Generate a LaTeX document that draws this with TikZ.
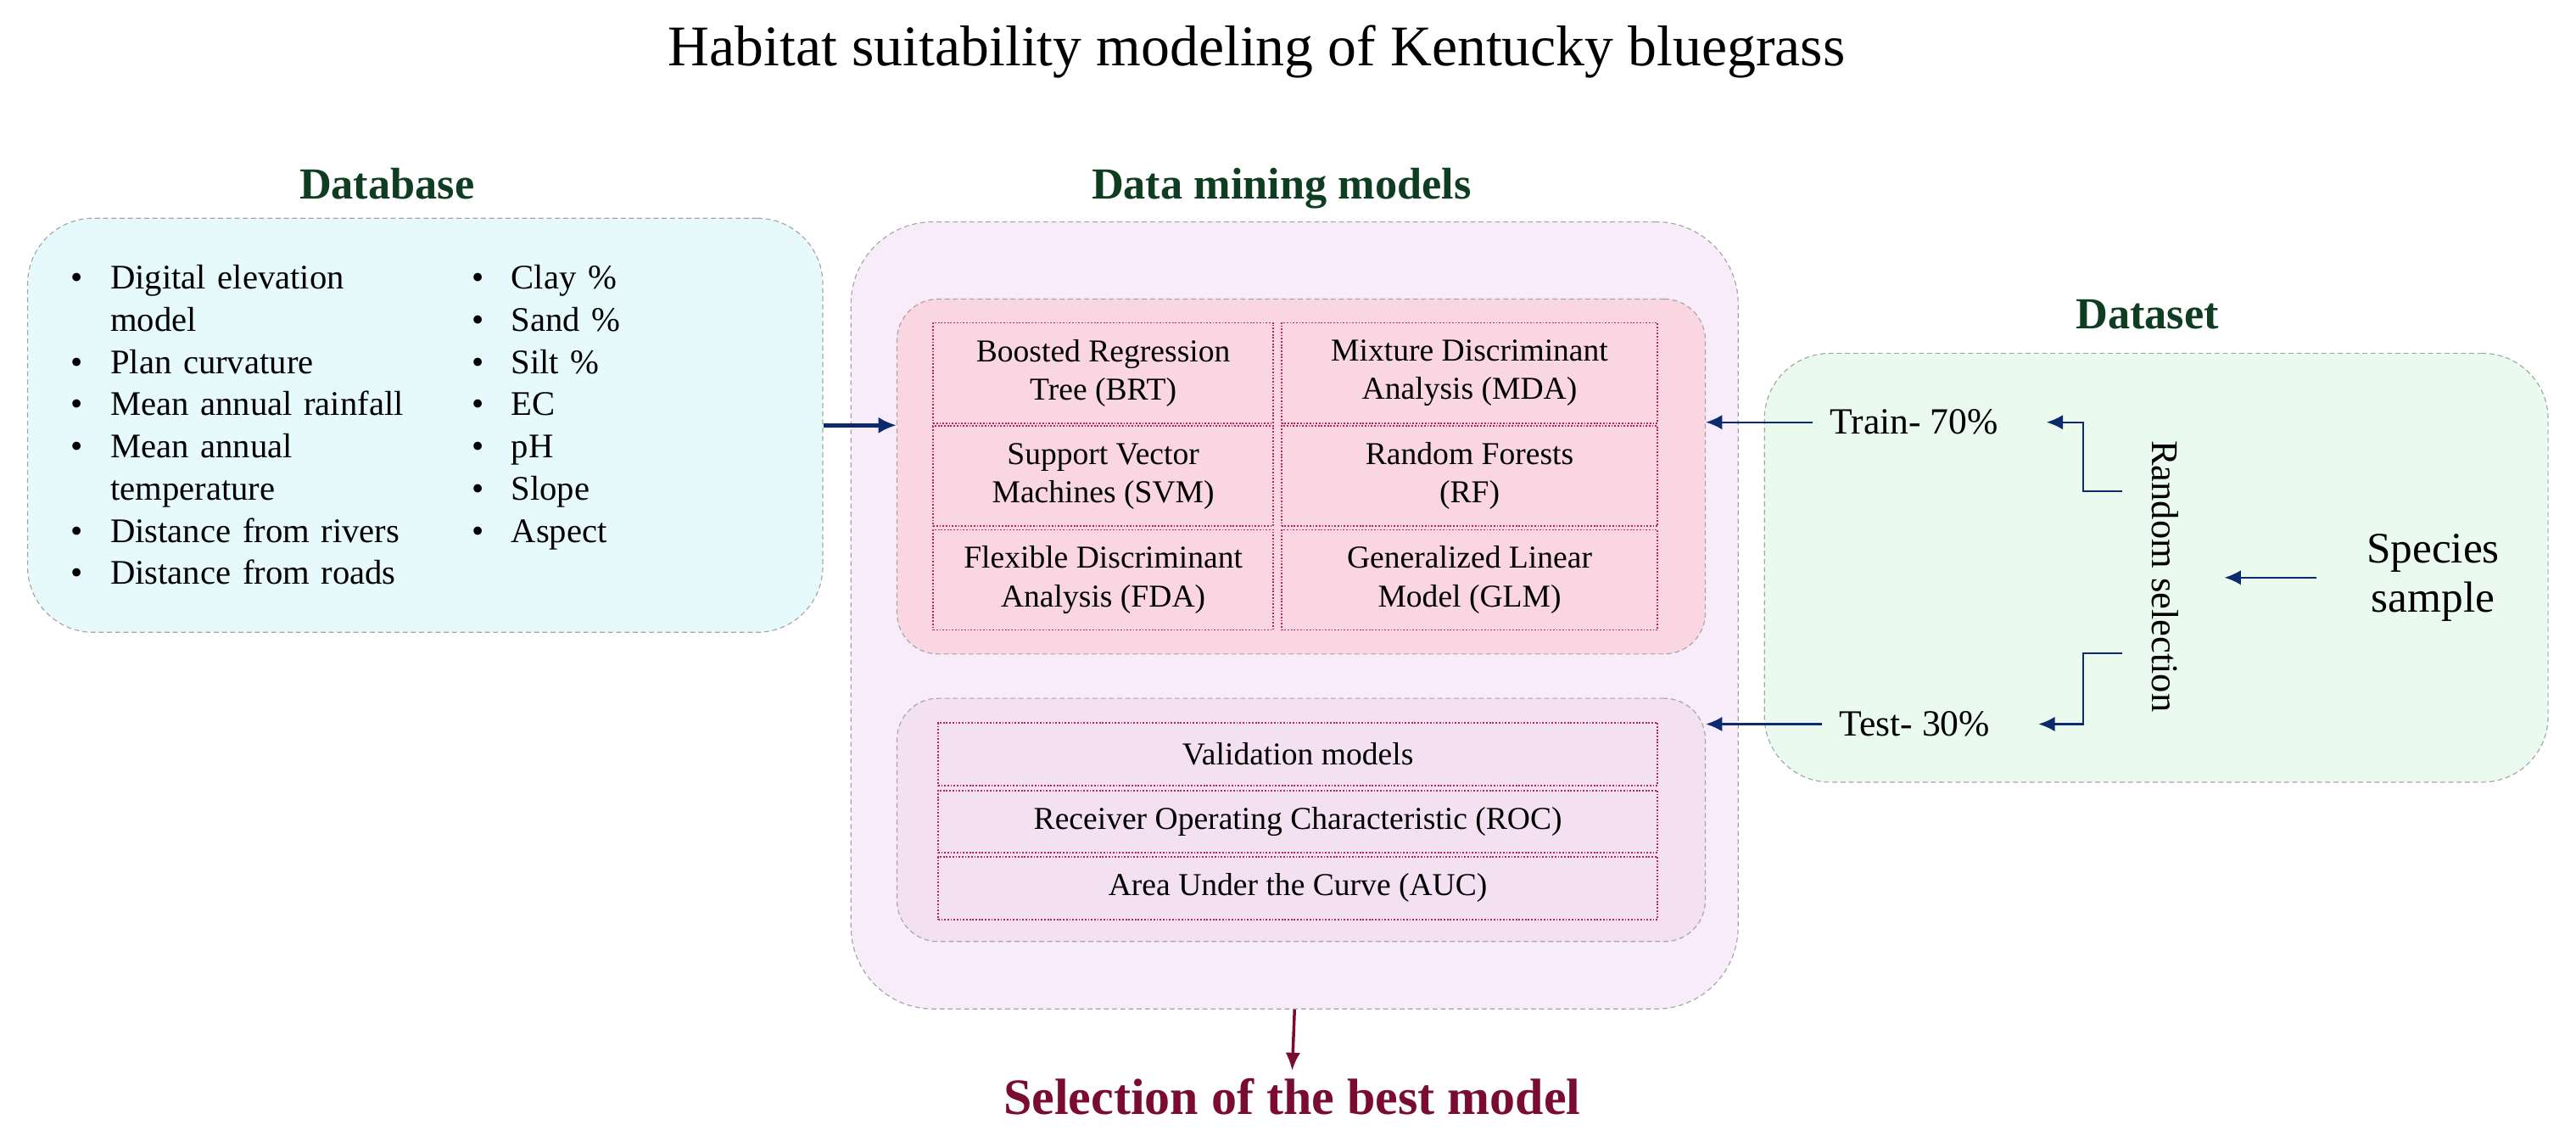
\documentclass[tikz,border=0pt]{standalone}
\usepackage{fontspec}
\setmainfont{Liberation Serif}
\usetikzlibrary{positioning,arrows.meta,calc}

\definecolor{headgreen}{HTML}{0F3D22}
\definecolor{dbfill}{HTML}{E6FAFB}
\definecolor{dmfill}{HTML}{F8ECFA}
\definecolor{modfill}{HTML}{FAD6E2}
\definecolor{valfill}{HTML}{F3E0F0}
\definecolor{dsfill}{HTML}{EAFAEE}
\definecolor{celldot}{HTML}{B8245A}
\definecolor{navy}{HTML}{0C2A6C}
\definecolor{bestred}{HTML}{7A0B32}
\definecolor{edgegray}{HTML}{A6A6A6}

\newcommand{\bitem}[1]{\makebox[24pt][l]{\textbullet}#1}
\newcommand{\bcont}[1]{\hspace*{24pt}#1}

\begin{document}
\begin{tikzpicture}[x=1pt, y=1pt,
  panel/.style={draw=edgegray, densely dashed, line width=0.6pt, rounded corners=#1, inner sep=0pt},
  head/.style={font=\fontsize{27}{32}\selectfont\bfseries, text=headgreen},
  cell/.style={draw=celldot, densely dotted, line width=0.9pt, minimum height=61pt, align=center, inner sep=0pt, font=\fontsize{19.4}{23.3}\selectfont},
  valcell/.style={cell, minimum width=438pt, minimum height=38pt},
  dblist/.style={align=left, inner sep=0pt, font=\fontsize{21}{25.7}\selectfont},
  navyarrow/.style={draw=navy, line width=1.2pt, -{Latex[length=10pt, width=9pt]}},
  dbarrow/.style={draw=navy, line width=2.4pt, -{Latex[length=11pt, width=10pt]}},
  bestarrow/.style={draw=bestred, line width=1.8pt, -{Latex[length=11pt, width=9pt]}}]
  \useasboundingbox (0,0) rectangle (1568,691);

  \node[font=\fontsize{35}{42}\selectfont, anchor=base] (title) at (765,651) {Habitat suitability modeling of Kentucky bluegrass};

  % database
  \node[head, anchor=base] (dbhead) at (235.5,570) {Database};
  \node[panel=40pt, fill=dbfill, minimum width=484pt, minimum height=252pt] (db) at (258.8,432.2) {};
  \node[dblist, text width=240pt, anchor=base west] (dbleft) at (43,515.2) {\bitem{Digital elevation}\\ \bcont{model}\\ \bitem{Plan curvature}\\ \bitem{Mean annual rainfall}\\ \bitem{Mean annual}\\ \bcont{temperature}\\ \bitem{Distance from rivers}\\ \bitem{Distance from roads}};
  \node[dblist, text width=180pt, anchor=base west] (dbright) at (287,515.2) {\bitem{Clay \%}\\ \bitem{Sand \%}\\ \bitem{Silt \%}\\ \bitem{EC}\\ \bitem{pH}\\ \bitem{Slope}\\ \bitem{Aspect}};

  % data mining models
  \node[head, anchor=base] (dmhead) at (780,570) {Data mining models};
  \node[panel=50pt, fill=dmfill, minimum width=540pt, minimum height=479pt] (dm) at (788,316.5) {};
  \node[panel=25pt, fill=modfill, minimum width=492pt, minimum height=216pt] (models) at (792,401) {};
  \node[cell, minimum width=207pt] (brt) at (671.5,464) {Boosted Regression\\Tree (BRT)};
  \node[cell, minimum width=229pt] (mda) at (894.5,464) {Mixture Discriminant\\Analysis (MDA)};
  \node[cell, minimum width=207pt] (svm) at (671.5,401.2) {Support Vector\\Machines (SVM)};
  \node[cell, minimum width=229pt] (rf) at (894.5,401.2) {Random Forests\\(RF)};
  \node[cell, minimum width=207pt] (fda) at (671.5,338.1) {Flexible Discriminant\\Analysis (FDA)};
  \node[cell, minimum width=229pt] (glm) at (894.5,338.1) {Generalized Linear\\Model (GLM)};

  \node[panel=25pt, fill=valfill, minimum width=492pt, minimum height=148pt] (val) at (792,192) {};
  \node[valcell] (valhead) at (790,232) {Validation models};
  \node[valcell] (roc) at (790,191) {Receiver Operating Characteristic (ROC)};
  \node[valcell] (auc) at (790,150.5) {Area Under the Curve (AUC)};

  \node[font=\fontsize{31}{36}\selectfont\bfseries, text=bestred, anchor=base] (best) at (786.5,13) {Selection of the best model};

  % dataset
  \node[head, anchor=base] (dshead) at (1307,491) {Dataset};
  \node[panel=40pt, fill=dsfill, minimum width=477pt, minimum height=261pt] (ds) at (1312.5,345.5) {};
  \node[font=\fontsize{22.5}{27}\selectfont, anchor=base] (train) at (1165,426.7) {Train- 70\%};
  \node[font=\fontsize{22.5}{27}\selectfont, anchor=base] (test) at (1165.5,243) {Test- 30\%};
  \node[font=\fontsize{23}{27}\selectfont, rotate=-90] (rand) at (1318,340.3) {Random selection};
  \node[font=\fontsize{26.5}{30}\selectfont, align=center] (species) at (1481,339.5) {Species\\sample};
  \coordinate (randin) at (1354,339.5);
  \coordinate (selup) at (1292,392);
  \coordinate (seldown) at (1292,293.4);

  \draw[dbarrow] (db.east) -- (db.east -| models.west);
  \draw[navyarrow, shorten <=7pt] (train.west) -- (train.west -| models.east);
  \draw[navyarrow, shorten <=7pt] (test.west) -- (test.west -| val.east);
  \draw[navyarrow, shorten <=27pt] (species.west) -- (randin);
  \draw[navyarrow, shorten >=26pt] (selup) -- ++(-24,0) |- (train.east);
  \draw[navyarrow, shorten >=26pt] (seldown) -- ++(-24,0) |- (test.east);
  \draw[bestarrow, shorten >=1pt] (dm.south) -- (best.north);
\end{tikzpicture}
\end{document}
